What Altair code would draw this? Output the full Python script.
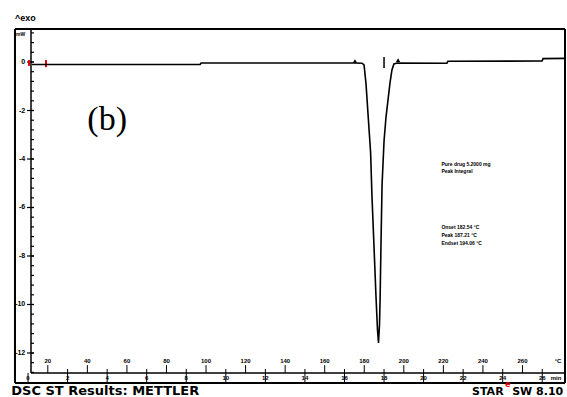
import altair as alt
import pandas as pd

# DSC heating run: temperature (°C) against heat flow (mW)
temp_c = [12.0, 97.0, 97.5, 175.3, 178.9, 179.9, 180.9, 181.9, 183.2, 183.9,
          184.9, 185.9, 186.7, 187.2, 187.7, 188.0, 188.5, 189.0, 190.0, 191.0,
          192.0, 193.0, 194.0, 195.0, 196.6, 221.8, 222.3, 269.9, 270.4, 281.5]
heat_mw = [-0.10, -0.10, -0.04, -0.04, -0.05, -0.12, -0.91, -2.14, -3.71, -5.53,
           -7.55, -9.61, -11.05, -11.59, -10.85, -9.81, -7.34, -5.07, -3.26, -2.27,
           -1.57, -0.87, -0.33, -0.08, -0.04, -0.05, 0.03, 0.04, 0.14, 0.15]

# evaluation markers: onset / endset triangles and peak mark
marker_temp = [175.3, 197.1]
marker_mw = [0.04, 0.08]
peak_mark_temp = 190.0

# axis tick values
y_major = [0, -2, -4, -6, -8, -10, -12]
y_minor = [round(1.2 - 0.4 * i, 1) for i in range(36)]
temp_labels = list(range(20, 261, 20))
temp_ticks = list(range(20, 271, 10))
time_ticks_temp = list(range(10, 271, 20))
time_labels = list(range(0, 27, 2))

X_DOMAIN = [11.5, 281.5]
Y_DOMAIN = [-12.825, 1.361]
FRAME_LEFT, FRAME_RIGHT = 3.4, 281.5
FRAME_TOP, FRAME_BOTTOM = 1.361, -13.24

xs = alt.Scale(domain=X_DOMAIN, nice=False, zero=False)
ys = alt.Scale(domain=Y_DOMAIN, nice=False, zero=False)


def rules(rows, width=1.0, color="black"):
    df = pd.DataFrame(rows, columns=["T", "T2", "mW", "mW2"])
    return alt.Chart(df).mark_rule(strokeWidth=width, color=color).encode(
        x=alt.X("T:Q", scale=xs, axis=None), x2="T2:Q",
        y=alt.Y("mW:Q", scale=ys, axis=None), y2="mW2:Q")


def texts(rows, size=6, bold=True, align="center", baseline="middle",
          font="Liberation Sans", color="black"):
    df = pd.DataFrame(rows, columns=["T", "mW", "label"])
    return alt.Chart(df).mark_text(
        fontSize=size, fontWeight="bold" if bold else "normal", align=align,
        baseline=baseline, font=font, color=color).encode(
        x=alt.X("T:Q", scale=xs, axis=None),
        y=alt.Y("mW:Q", scale=ys, axis=None), text="label:N")


# outer frame and inner axis lines
frame = rules([
    (FRAME_LEFT, FRAME_RIGHT, FRAME_TOP, FRAME_TOP),
    (FRAME_LEFT, FRAME_RIGHT, FRAME_BOTTOM, FRAME_BOTTOM),
    (FRAME_LEFT, FRAME_LEFT, FRAME_TOP, FRAME_BOTTOM),
    (FRAME_RIGHT, FRAME_RIGHT, FRAME_TOP, FRAME_BOTTOM),
], width=2)
axes_lines = rules([
    (X_DOMAIN[0], X_DOMAIN[0], FRAME_TOP, Y_DOMAIN[0]),
    (X_DOMAIN[0], X_DOMAIN[1], Y_DOMAIN[0], Y_DOMAIN[0]),
], width=1.5)

# y axis ticks
y_ticks = rules([(11.5, 13.0, v, v) for v in y_minor] +
                [(9.5, 13.0, v, v) for v in y_major], width=1.2)
y_text = texts([(8.6, v, str(v)) for v in y_major], size=7, align="right")
y_unit = texts([(8.6, 1.15, "mW")], size=5, align="right")

# temperature axis (upper row) and time axis (lower row)
t_ticks = rules([(t, t, -12.66 if t % 20 else -12.5, Y_DOMAIN[0]) for t in temp_ticks],
                width=1)
t_text = texts([(t, -12.33, str(t)) for t in temp_labels] + [(278.0, -12.33, "°C")],
               size=6)
time_rules = rules([(t, t, Y_DOMAIN[0], FRAME_BOTTOM) for t in time_ticks_temp], width=1)
time_text = texts([(t, -13.05, str(m)) for t, m in zip(time_ticks_temp, time_labels)] +
                  [(277.0, -13.05, "min")], size=6)

# heat-flow trace
curve_df = pd.DataFrame({"T": temp_c, "mW": heat_mw, "i": range(len(temp_c))})
curve = alt.Chart(curve_df).mark_line(color="black", strokeWidth=1.6).encode(
    x=alt.X("T:Q", scale=xs, axis=None), y=alt.Y("mW:Q", scale=ys, axis=None),
    order="i:Q")

markers = alt.Chart(pd.DataFrame({"T": marker_temp, "mW": marker_mw})).mark_point(
    shape="triangle-up", filled=True, color="black", size=18, opacity=1).encode(
    x=alt.X("T:Q", scale=xs, axis=None), y=alt.Y("mW:Q", scale=ys, axis=None))
peak_mark = rules([(peak_mark_temp, peak_mark_temp, 0.21, -0.25)], width=1.5)
red_marks = rules([(10.5, 10.5, 0.08, -0.16), (19.1, 19.1, 0.08, -0.21)],
                  width=2, color="#e00000")

# annotations
exo = texts([(3.4, 1.81, "^exo")], size=9, align="left")
panel = texts([(40.0, -2.4, "(b)")], size=34, bold=False, align="left",
              font="Liberation Serif")
info1 = texts([(219.0, -4.2, "Pure drug  5.2000 mg"),
               (219.0, -4.5, "Peak  Integral")], size=5, align="left")
info2 = texts([(219.0, -6.8, "Onset     182.54 °C"),
               (219.0, -7.13, "Peak       187.21 °C"),
               (219.0, -7.46, "Endset    194.06 °C")], size=5, align="left")
footer_left = texts([(1.5, -13.75, "DSC ST  Results: METTLER")], size=13,
                    align="left", baseline="alphabetic", font="DejaVu Sans")
footer_star = texts([(234.5, -13.75, "STAR")], size=11, align="left",
                    baseline="alphabetic", font="DejaVu Sans")
footer_e = texts([(251.2, -13.3, "e")], size=8, align="left",
                 font="DejaVu Sans", color="#e00000")
footer_sw = texts([(254.8, -13.75, "SW 8.10")], size=11, align="left",
                  baseline="alphabetic", font="DejaVu Sans")

chart = alt.layer(
    frame, axes_lines, y_ticks, y_text, y_unit, t_ticks, t_text, time_rules,
    time_text, red_marks, curve, markers, peak_mark, exo, panel, info1, info2,
    footer_left, footer_star, footer_e, footer_sw,
).properties(
    width=534, height=344,
    padding={"left": 31, "top": 29, "right": 2, "bottom": 24},
    autosize=alt.AutoSizeParams(type="none"),
    background="white",
).configure_view(strokeWidth=0)

chart.save("out.html", embed_options={"renderer": "svg", "actions": False})
